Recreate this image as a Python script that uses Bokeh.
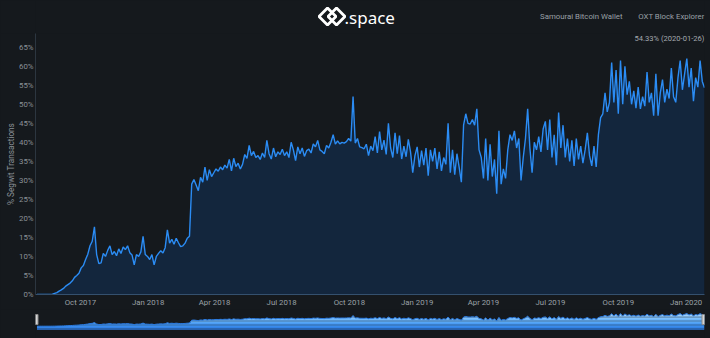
import numpy as np
import pandas as pd
from math import pi
from bokeh.plotting import figure
from bokeh.layouts import column
from bokeh.models import (Range1d, FixedTicker, PrintfTickFormatter,
                          DatetimeTickFormatter, Label)
from bokeh.embed import file_html
from bokeh.resources import INLINE

# ---------------- data ----------------
start_date = "2017-08-03"
step_days = 3
segwit_pct = [
    0, 0, 0, 0, 0, 0, 0, 0.1, 0.3, 0.5,
    0.9, 1.2, 1.6, 2.2, 2.6, 3.0, 3.6, 4.5, 5.0, 5.6,
    7.0, 7.6, 9.2, 10.6, 12.8, 14.0, 17.8, 10.5, 8.1, 8.3,
    10.8, 10.0, 11.6, 12.8, 10.5, 11.3, 10.2, 12.0, 10.8, 12.5,
    11.8, 12.8, 11.0, 10.4, 7.8, 10.5, 10.0, 11.2, 15.3, 10.5,
    10.0, 9.2, 10.5, 7.8, 10.0, 10.8, 11.5, 10.9, 12.3, 17.0,
    13.5, 14.5, 13.2, 14.8, 13.6, 12.6, 12.8, 13.5, 14.8, 15.3,
    29.0, 30.2, 28.8, 27.3, 30.8, 29.5, 33.5, 30.0, 32.8, 31.0,
    32.0, 33.0, 32.4, 33.5, 32.8, 34.0, 33.2, 35.5, 32.5, 35.8,
    33.6, 34.5, 33.0, 34.2, 36.8, 35.8, 39.2, 36.5, 37.6, 36.0,
    36.5, 35.5, 37.2, 36.0, 40.5, 37.0, 35.6, 38.5, 36.2, 37.5,
    36.8, 38.2, 36.5, 37.5, 36.0, 40.0, 38.0, 35.2, 38.8, 37.0,
    38.5, 36.3, 37.8, 38.2, 37.2, 39.6, 38.8, 40.5, 38.0, 37.6,
    37.0, 39.2, 38.5, 40.0, 42.0, 39.5, 40.4, 39.6, 40.0, 39.8,
    40.2, 41.0, 40.3, 52.0, 39.8, 41.0, 38.8, 38.6, 38.3, 39.5,
    36.5, 39.0, 37.8, 41.5, 37.2, 42.8, 38.0, 40.6, 36.8, 45.0,
    38.5, 36.0, 42.5, 37.0, 41.8, 35.6, 39.0, 36.2, 40.8, 37.5,
    32.0, 36.5, 38.8, 33.5, 37.8, 34.0, 38.5, 31.2, 38.0, 35.0,
    38.5, 33.0, 37.5, 32.5, 36.0, 34.2, 45.0, 32.0, 38.0, 31.5,
    37.0, 33.5, 29.5, 44.5, 47.5, 45.0, 44.8, 46.0, 44.5, 48.8,
    38.0, 36.0, 30.5, 41.0, 30.0, 39.5, 31.0, 35.5, 26.5, 43.0,
    29.0, 33.0, 30.5, 38.0, 42.0, 40.5, 43.0, 38.5, 41.0, 30.0,
    36.0, 41.0, 48.8, 38.5, 32.0, 40.0, 38.0, 41.5, 37.5, 43.5,
    45.5, 38.0, 46.0, 36.0, 42.0, 34.0, 47.8, 38.5, 44.5, 36.0,
    41.0, 35.0, 40.5, 33.8, 41.0, 35.5, 39.0, 34.5, 38.0, 42.5,
    36.5, 33.8, 39.0, 33.5, 42.0, 46.5, 47.5, 53.0, 48.0, 50.5,
    61.0, 50.5, 59.0, 47.5, 61.5, 50.0, 60.0, 52.5, 56.0, 50.0,
    53.5, 49.0, 54.5, 48.8, 52.0, 49.5, 58.5, 50.5, 53.0, 47.0,
    58.0, 47.0, 53.0, 56.5, 50.5, 54.0, 51.5, 59.5, 52.0, 50.5,
    57.0, 61.5, 53.8, 58.0, 62.0, 54.5, 59.5, 50.8, 57.0, 54.5, 61.5, 56.0, 54.33,
]
y_tick_values = [0, 5, 10, 15, 20, 25, 30, 35, 40, 45, 50, 55, 60, 65]
x_tick_dates = ["2017-10-01", "2018-01-01", "2018-04-01", "2018-07-01", "2018-10-01",
                "2019-01-01", "2019-04-01", "2019-07-01", "2019-10-01", "2020-01-01"]
y_axis_title = "% Segwit Transactions"
brand_text = ".space"
header_links = ["Samourai Bitcoin Wallet", "OXT Block Explorer"]
last_point_text = "54.33% (2020-01-26)"

# ---------------- styles ----------------
BG = "#15191d"
LINE = "#2b8cf4"
AREA = "#13263d"
GRAY = "#8b9197"
FONT = "Roboto"
SMALL = "7.8px"

dates = pd.date_range(start_date, periods=len(segwit_pct), freq=f"{step_days}D")
vals = np.array(segwit_pct, dtype=float)
x_start = pd.Timestamp("2017-08-01")
x_end = dates[-1]
xr = Range1d(x_start, x_end)

# ---------------- header (frame aligned with chart frame: 35..704 px) ----------------
h = figure(width=710, height=33, x_range=(35, 704), y_range=(0, 33),
           x_axis_location=None, y_axis_location=None,
           toolbar_location=None, output_backend="svg",
           min_border_left=35, min_border_right=6, min_border_top=0,
           min_border_bottom=0, outline_line_color=None, background_fill_color=BG,
           border_fill_color=BG)
h.grid.visible = False
h.rect(x=[327, 336], y=[17, 17], width=12, height=12, angle=pi / 4,
       fill_alpha=0, line_color="white", line_width=2.8)
h.add_layout(Label(x=344, y=16, text=brand_text, text_color="white",
                   text_font="Noto Sans", text_font_size="17px",
                   text_baseline="middle"))
h.add_layout(Label(x=622, y=17, text=header_links[0], text_color="#9aa0a6",
                   text_font=FONT, text_font_size="7.8px",
                   text_baseline="middle", text_align="right"))
h.add_layout(Label(x=704, y=17, text=header_links[1], text_color="#9aa0a6",
                   text_font=FONT, text_font_size="7.8px",
                   text_baseline="middle", text_align="right"))

# ---------------- main chart ----------------
p = figure(width=710, height=276, x_axis_type="datetime", x_range=xr,
           y_range=Range1d(0, 68.6), toolbar_location=None, output_backend="svg",
           min_border_left=35, min_border_right=6, min_border_top=0,
           min_border_bottom=0, outline_line_color=None,
           background_fill_color=BG, border_fill_color=BG)
p.grid.visible = False
p.varea(x=dates, y1=0, y2=vals, fill_color=AREA)
p.line(x=dates, y=vals, line_color=LINE, line_width=1.4)

p.yaxis.ticker = FixedTicker(ticks=y_tick_values)
p.yaxis.formatter = PrintfTickFormatter(format="%d%%")
p.yaxis.axis_label = y_axis_title
p.yaxis.axis_label_text_font = FONT
p.yaxis.axis_label_text_font_size = "8.2px"
p.yaxis.axis_label_text_font_style = "normal"
p.yaxis.axis_label_text_color = GRAY
p.yaxis.axis_label_standoff = 0
p.yaxis.major_label_standoff = 2

p.xaxis.ticker = FixedTicker(ticks=[pd.Timestamp(d).value // 10**6 for d in x_tick_dates])
p.xaxis.formatter = DatetimeTickFormatter(months="%b %Y", days="%b %Y", years="%b %Y",
                                          hours="%b %Y")
p.xaxis.major_label_standoff = 3

for ax in (p.xaxis, p.yaxis):
    ax.major_label_text_font = FONT
    ax.major_label_text_font_size = SMALL
    ax.major_label_text_color = GRAY
    ax.major_tick_out = 0
    ax.major_tick_in = 0
    ax.minor_tick_out = 0
    ax.minor_tick_in = 0
    ax.major_tick_line_color = None
    ax.minor_tick_line_color = None
    ax.axis_line_color = "#2c3640"
p.xaxis.axis_line_color = "#34506e"
p.xaxis.major_label_text_color = "#9ba1a7"

p.add_layout(Label(x=x_end, y=67.3, text=last_point_text, text_color="#a3a8ae",
                   text_font=FONT, text_font_size="7.6px",
                   text_baseline="middle", text_align="right"))

# ---------------- navigator ----------------
n = figure(width=710, height=29, x_axis_type="datetime", x_range=xr,
           y_range=Range1d(-60, 81.5), toolbar_location=None, output_backend="svg",
           x_axis_location=None, y_axis_location=None,
           min_border_left=35, min_border_right=6, min_border_top=0,
           min_border_bottom=0, outline_line_color=None,
           background_fill_color=BG, border_fill_color=BG)
n.grid.visible = False
base = -17.6
band_colors = ["#2c78de", "#3282e6", "#398bec", "#4294f0", "#4c9df3", "#57a6f6",
               "#63aff8", "#70b8fa", "#7ec0fc", "#8cc8fd", "#9acffe", "#a6d5ff"]
levels = np.linspace(base, vals.max(), len(band_colors) + 1)
for k, c in enumerate(band_colors):
    lo = np.minimum(np.maximum(vals, base), levels[k])
    hi = np.minimum(np.maximum(vals, base), levels[k + 1])
    n.varea(x=dates, y1=lo, y2=hi, fill_color=c)
n.line(x=dates, y=vals, line_color="#2a7ae0", line_width=1)
n.rect(x=[x_start, x_end], y=[32.7, 32.7], width=5, height=10,
       width_units="screen", height_units="screen",
       fill_color="#d4d4d4", line_color="#8a8a8a", line_width=1)

layout = column(h, p, n, spacing=0, background=BG)
open("out.html", "w").write(file_html(layout, INLINE))
